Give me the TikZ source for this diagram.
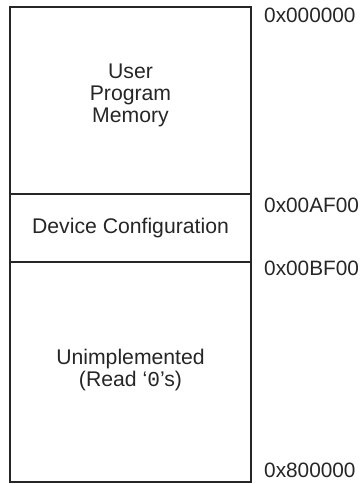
\documentclass[tikz,border=0pt]{standalone}
\usepackage{fontspec}
\setmainfont{Liberation Sans}
\newfontfamily\monofnt{Liberation Mono}
\definecolor{ink}{HTML}{262626}
\begin{document}
\begin{tikzpicture}[x=1pt,y=-1pt,
  sect/.style={draw=ink,line width=1.3pt,minimum width=241pt,inner sep=0pt,outer sep=0pt,anchor=north west},
  txt/.style={font=\fontsize{21.2}{22}\selectfont,text=ink,align=center,inner sep=0pt},
  addr/.style={font=\fontsize{20.8}{22}\selectfont,text=ink,anchor=west,inner sep=0pt}]
\useasboundingbox (0,0) rectangle (359,484);
\node[sect,minimum height=187pt] (upm) at (10,7) {};
\node[sect,minimum height=68pt] (dev) at (10,194) {};
\node[sect,minimum height=220pt] (uni) at (10,262) {};
\node[txt] (t1) at (130.5,95) {User\\Program\\Memory};
\node[txt] (t2) at (130.5,228) {Device Configuration};
\node[txt] (t3) at (130.5,370) {Unimplemented\\(Read ‘{\monofnt 0}’s)};
\node[addr] (a1) at (264,15.5) {0x000000};
\node[addr] (a2) at (264,205) {0x00AF00};
\node[addr] (a3) at (264,268) {0x00BF00};
\node[addr] (a4) at (264,470) {0x800000};
\end{tikzpicture}
\end{document}
